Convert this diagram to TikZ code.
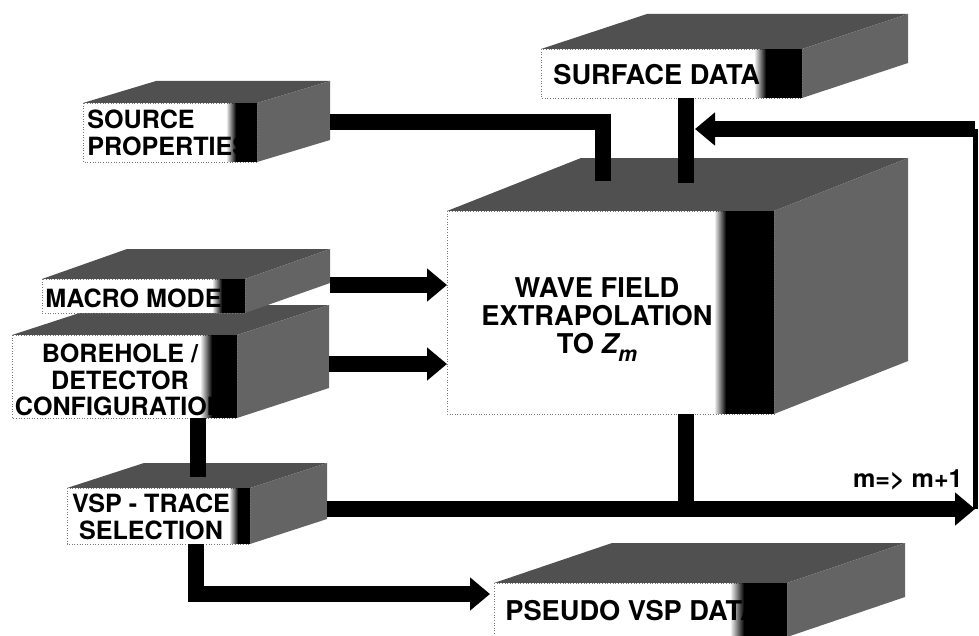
\documentclass[tikz,border=0pt]{standalone}
\usepackage{fontspec}
\setmainfont{TeX Gyre Heros}
\usetikzlibrary{arrows.meta,calc,fadings}
\definecolor{top_gray}{RGB}{80,80,80}
\definecolor{side_gray}{RGB}{100,100,100}
\definecolor{rim_gray}{RGB}{120,120,120}
\tikzfading[name=band fade,left color=transparent!100,right color=transparent!0]

\begin{document}
\begin{tikzpicture}[x=0.02cm,y=-0.02cm,>=Triangle,
    topface/.style={fill=top_gray},
    sideface/.style={fill=side_gray},
    frontface/.style={fill=white,draw=rim_gray,densely dotted,line width=0.5pt},
    band/.style={fill=black,path fading=band fade},
    bar/.style={line width=0.33cm},
    flow/.style={line width=0.33cm,-{Triangle[width=0.64cm,length=0.4cm]}},
    loopline/.style={line width=0.1cm},
    boxtext/.style={inner sep=0pt,font=\bfseries\fontsize{14.3}{15}\selectfont},
    bigtext/.style={inner sep=0pt,font=\bfseries\fontsize{15.5}{15.9}\selectfont}]

    \useasboundingbox (0,0) rectangle (979,635);

    % source properties
    \fill[topface] (83,103) -- (156,81) -- (330,81) -- (257,103) -- cycle;
    \fill[sideface] (257,103) -- (330,81) -- (330,140) -- (257,162) -- cycle;
    \draw[frontface] (83,103) rectangle (257,162);
    \node[boxtext,align=left,anchor=north west] (source) at (87,110) {SOURCE\\PROPERTIES};
    \fill[band] (226,103) rectangle (236,162);
    \fill (236,103) rectangle (257,162);

    % surface data
    \fill[topface] (541,49) -- (647,14) -- (908,14) -- (802,49) -- cycle;
    \fill[sideface] (802,49) -- (908,14) -- (908,63) -- (802,98) -- cycle;
    \draw[frontface] (541,49) rectangle (802,98);
    \node[bigtext,anchor=base west] (surface) at (553,85) {SURFACE DATA};
    \fill[band] (754,49) rectangle (766,98);
    \fill (766,49) rectangle (802,98);

    % wave field extrapolation
    \fill[topface] (447,211) -- (581,158) -- (908,158) -- (774,211) -- cycle;
    \fill[sideface] (774,211) -- (908,158) -- (908,361) -- (774,414) -- cycle;
    \draw[frontface] (447,211) rectangle (774,414);
    \node[bigtext,align=center,anchor=north] (main) at (597,277)
        {WAVE FIELD\\EXTRAPOLATION\\TO {\itshape Z}\raisebox{-0.3em}{\fontsize{12}{12}\selectfont\itshape m}};
    \fill[band] (714,211) rectangle (726,414);
    \fill (726,211) rectangle (774,414);

    % borehole / detector configuration
    \fill[topface] (12,335) -- (104,305) -- (329,305) -- (237,335) -- cycle;
    \fill[sideface] (237,335) -- (329,305) -- (329,388) -- (237,418) -- cycle;
    \draw[frontface] (12,335) rectangle (237,418);
    \node[boxtext,align=center,anchor=north] (borehole) at (120,344) {BOREHOLE /\\DETECTOR\\CONFIGURATION};
    \fill[band] (200,335) rectangle (212,418);
    \fill (212,335) rectangle (237,418);

    % macro model
    \fill[topface] (42,279) -- (127,249) -- (330,249) -- (245,279) -- cycle;
    \fill[sideface] (245,279) -- (330,249) -- (330,283) -- (245,313) -- cycle;
    \draw[frontface] (42,279) rectangle (245,313);
    \node[boxtext,anchor=base west] (macro) at (45,307) {MACRO MODEL};
    \fill[band] (212,279) rectangle (222,313);
    \fill (222,279) rectangle (245,313);

    % vsp trace selection
    \fill[topface] (67,488) -- (144,463) -- (327,463) -- (250,488) -- cycle;
    \fill[sideface] (250,488) -- (327,463) -- (327,519) -- (250,544) -- cycle;
    \draw[frontface] (67,488) rectangle (250,544);
    \node[boxtext,align=center,anchor=north] (trace) at (151,494) {VSP - TRACE\\SELECTION};
    \fill[band] (229,488) rectangle (238,544);
    \fill (238,488) rectangle (250,544);

    % pseudo vsp data
    \fill[topface] (494,583) -- (612,543) -- (905,543) -- (787,583) -- cycle;
    \fill[sideface] (787,583) -- (905,543) -- (905,597) -- (787,637) -- cycle;
    \draw[frontface] (494,583) rectangle (787,637);
    \node[bigtext,anchor=base west] (pseudo) at (505,620) {PSEUDO VSP DATA};
    \fill[band] (730,583) rectangle (744,637);
    \fill (744,583) rectangle (787,637);

    % ports
    \coordinate (source_out) at (330,122);
    \coordinate (main_in_a) at (603,181);
    \coordinate (surface_out) at (686,98);
    \coordinate (main_in_b) at (686,183);
    \coordinate (surface_side) at (695,129);
    \coordinate (loop_high) at (975,129);
    \coordinate (loop_low) at (975,509);
    \coordinate (macro_out) at (330,285);
    \coordinate (main_in_c) at (447,285);
    \coordinate (borehole_out) at (329,364);
    \coordinate (main_in_d) at (447,364);
    \coordinate (borehole_down) at (198,418);
    \coordinate (trace_in) at (198,477);
    \coordinate (trace_out) at (327,509);
    \coordinate (trace_down) at (196,544);
    \coordinate (pseudo_in) at (490,594);
    \coordinate (main_out) at (686,414);
    \coordinate (junction) at (686,509);

    \draw[bar] (source_out) -| (main_in_a);
    \draw[bar] (surface_out) -- (main_in_b);
    \draw[loopline] (loop_low) -- (loop_high);
    \draw[flow] (loop_high) -- (surface_side);
    \draw[flow] (macro_out) -- (main_in_c);
    \draw[flow] (borehole_out) -- (main_in_d);
    \draw[bar] (borehole_down) -- (trace_in);
    \draw[flow] (trace_down) |- (pseudo_in);
    \draw[bar] (main_out) -- (junction);
    \draw[flow] (trace_out) -- (loop_low);

    \node[boxtext,anchor=base east] (step_label) at (963,487) {m=> m+1};

\end{tikzpicture}
\end{document}
